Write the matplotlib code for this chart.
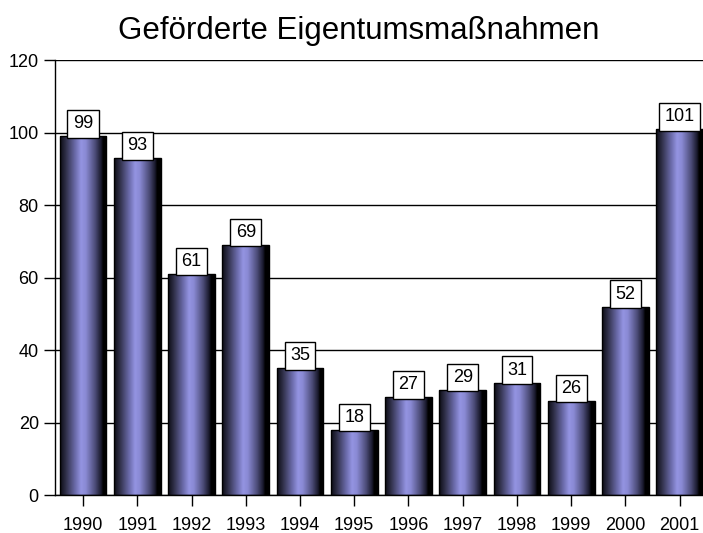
import numpy as np
import matplotlib.pyplot as plt
from matplotlib.colors import LinearSegmentedColormap

plt.rcParams['font.family'] = ['Liberation Sans', 'DejaVu Sans']

years = ['1990', '1991', '1992', '1993', '1994', '1995',
         '1996', '1997', '1998', '1999', '2000', '2001']
values = [99, 93, 61, 69, 35, 18, 27, 29, 31, 26, 52, 101]

# horizontal gradient for the "cylinder" look
cmap = LinearSegmentedColormap.from_list('cyl', [
    (0.00, '#0c0c14'),
    (0.12, '#2e2e46'),
    (0.32, '#6a6aa8'),
    (0.45, '#9494e2'),
    (0.55, '#8a8ad4'),
    (0.75, '#4c4c78'),
    (0.88, '#18182a'),
    (0.92, '#000000'),
    (1.00, '#000000'),
])
grad = np.linspace(0, 1, 256).reshape(1, -1)

fig = plt.figure(figsize=(7.03, 5.33), dpi=100)
ax = fig.add_axes([0.078, 0.071, 0.922, 0.816])

x = np.arange(len(years))
w = 0.86
bars = ax.bar(x, values, width=w, color='none', edgecolor='black',
              linewidth=1.0, zorder=3)

for b, v in zip(bars, values):
    x0 = b.get_x()
    im = ax.imshow(grad, cmap=cmap, aspect='auto', interpolation='bilinear',
                   extent=(x0, x0 + b.get_width(), 0, v), zorder=2)
    im.set_clip_path(b)
    ax.annotate(str(v), (b.get_x() + b.get_width() / 2, v),
                xytext=(0, 9), textcoords='offset points',
                ha='center', va='center', fontsize=13, zorder=5,
                bbox=dict(boxstyle='square,pad=0.3', fc='white',
                          ec='black', lw=1.0))

ax.set_xlim(-0.52, 11.43)
ax.set_ylim(0, 120)
ax.set_yticks(range(0, 121, 20))
ax.set_xticks(x)
ax.set_xticklabels(years)
ax.yaxis.grid(True, color='black', linewidth=1.0)
ax.set_axisbelow(True)

for s in ['top', 'right']:
    ax.spines[s].set_visible(False)
ax.spines['left'].set_linewidth(1.0)
ax.spines['bottom'].set_linewidth(1.0)
ax.tick_params(axis='both', direction='out', length=8, width=1.0,
               labelsize=13, colors='black')
ax.tick_params(axis='x', pad=8)

fig.text(0.51, 0.942, 'Geförderte Eigentumsmaßnahmen', ha='center',
         va='center', fontsize=22.5)

fig.savefig('out.png', dpi=100)
